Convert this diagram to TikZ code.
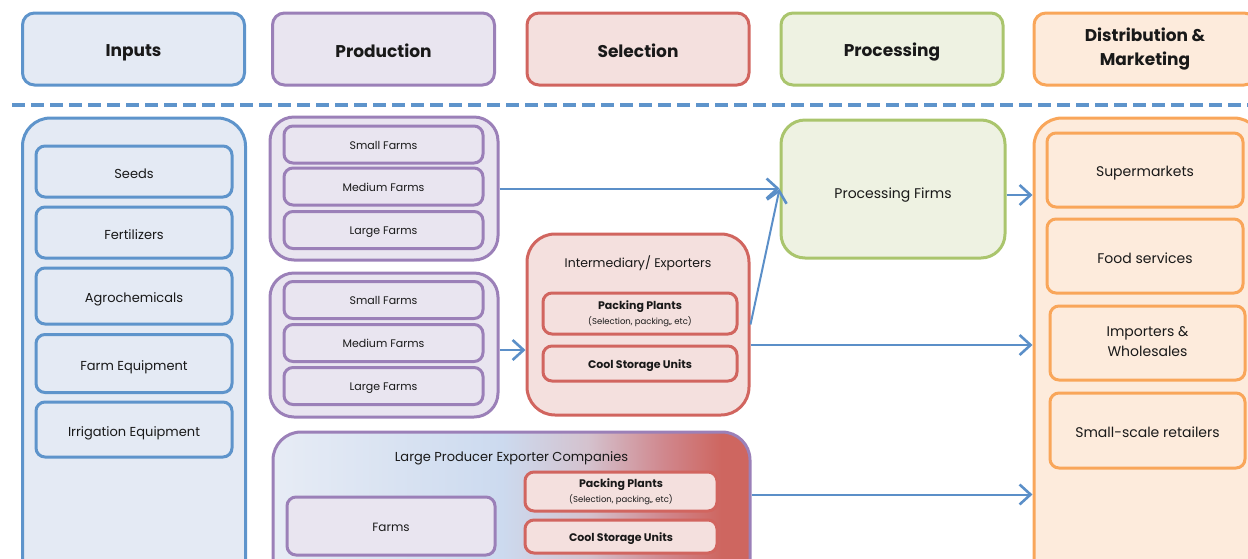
\documentclass[tikz,border=0pt]{standalone}
\usepackage{fontspec}
\setmainfont{Poppins}
\usetikzlibrary{arrows.meta}

\definecolor{inblue}{HTML}{5E94CB}
\definecolor{inblueL}{HTML}{E4EAF4}
\definecolor{prpurple}{HTML}{9B80B8}
\definecolor{prpurpleL}{HTML}{E9E5F0}
\definecolor{sered}{HTML}{D1655F}
\definecolor{seredL}{HTML}{F4E0DE}
\definecolor{pcgreen}{HTML}{AAC56D}
\definecolor{pcgreenL}{HTML}{EEF2E2}
\definecolor{dmorange}{HTML}{F9A65A}
\definecolor{dmorangeL}{HTML}{FDEBDC}
\definecolor{flow}{HTML}{5B8FC8}
\definecolor{lpecA}{HTML}{E7ECF5}
\definecolor{lpecB}{HTML}{CCDAEF}
\definecolor{lpecC}{HTML}{D4C2CE}
\definecolor{lpecD}{HTML}{D0878D}
\definecolor{lpecE}{HTML}{CE6660}

\pgfdeclarehorizontalshading{lpecshade}{100bp}{color(0bp)=(lpecA); color(25bp)=(lpecA); color(49bp)=(lpecB); color(58bp)=(lpecC); color(66bp)=(lpecD); color(72bp)=(lpecE); color(100bp)=(lpecE)}

\newcommand{\labelstrut}{\rule[-0.15\baselineskip]{0pt}{\baselineskip}}

\begin{document}
\begin{tikzpicture}[x=1pt, y=-1pt, >={Straight Barb[length=11pt,width=20pt,line width=2.6pt]}]
        \tikzstyle{every node}=[font=\fontsize{12}{14}\selectfont, align=center, inner sep=2pt, text=black!90, execute at begin node=\labelstrut, execute at end node=\labelstrut]
        \tikzstyle{head}=[draw, line width=3pt, rounded corners=12pt, minimum width=222pt, minimum height=72pt, font=\fontsize{17}{24}\selectfont\bfseries]
        \tikzstyle{group}=[draw, line width=3pt, rounded corners=28pt]
        \tikzstyle{item}=[draw, line width=3pt, rounded corners=9pt]
        \tikzstyle{farm}=[item, draw=prpurple, fill=prpurpleL, minimum width=199pt, minimum height=37pt, font=\fontsize{11}{13}\selectfont]
        \tikzstyle{input}=[item, draw=inblue, fill=inblueL, minimum width=196pt, font=\fontsize{13}{20}\selectfont]
        \tikzstyle{outlet}=[item, draw=dmorange, fill=dmorangeL, minimum height=74pt, font=\fontsize{14}{20}\selectfont]
        \tikzstyle{plant}=[item, draw=sered, fill=seredL, font=\fontsize{11}{16}\selectfont\bfseries]
        \tikzstyle{flowline}=[draw=flow, line width=2pt, ->]
        \useasboundingbox (0,0) rectangle (1248,558);
        \clip (0,0) rectangle (1248,558);
        % stages
        \node [head, draw=inblue, fill=inblueL] (hin) at (133.5,49) {Inputs};
        \node [head, draw=prpurple, fill=prpurpleL] (hprod) at (383.5,49) {Production};
        \node [head, draw=sered, fill=seredL] (hsel) at (638,49) {Selection};
        \node [head, draw=pcgreen, fill=pcgreenL] (hproc) at (892,49) {Processing};
        \node [head, draw=dmorange, fill=dmorangeL] (hdist) at (1145,49) {Distribution \&\\Marketing};
        \draw [inblue, line width=3.5pt, dash pattern=on 13pt off 6pt] (12,105) -- (1260,105);
        % inputs
        \node [group, draw=inblue, fill=inblueL, minimum width=223pt, minimum height=480pt] (inp) at (134,358) {};
        \node [input, minimum height=51pt] (seeds) at (134,171.5) {Seeds};
        \node [input, minimum height=51pt] (fert) at (134,232.5) {Fertilizers};
        \node [input, minimum height=56pt] (agro) at (134,296) {Agrochemicals};
        \node [input, minimum height=58pt] (equip) at (134,363.5) {Farm Equipment};
        \node [input, minimum height=55pt] (irrig) at (134,429.5) {Irrigation Equipment};
        % production
        \node [group, rounded corners=24pt, draw=prpurple, fill=prpurpleL, minimum width=228pt, minimum height=143pt] (prod1) at (384,188.5) {};
        \node [farm] (small1) at (383.5,144.5) {Small Farms};
        \node [farm] (medium1) at (383.5,186.5) {Medium Farms};
        \node [farm] (large1) at (383.5,230) {Large Farms};
        \node [group, rounded corners=24pt, draw=prpurple, fill=prpurpleL, minimum width=228pt, minimum height=144pt] (prod2) at (384,345) {};
        \node [farm] (small2) at (383.5,300) {Small Farms};
        \node [farm] (medium2) at (383.5,343) {Medium Farms};
        \node [farm] (large2) at (383.5,386) {Large Farms};
        % selection
        \node [group, draw=sered, fill=seredL, minimum width=222pt, minimum height=181pt] (inter) at (638,324.5) {};
        \node [font=\fontsize{12.5}{14}\selectfont] (intert) at (638,263) {Intermediary/ Exporters};
        \node [plant, minimum width=194pt, minimum height=41pt] (pack1) at (640,313.5) {Packing Plants\\[-1pt]{\fontsize{8.5}{10}\selectfont\mdseries (Selection, packing,, etc)}};
        \node [plant, minimum width=194pt, minimum height=35pt] (cool1) at (640,363.5) {Cool Storage Units};
        % large producer exporters
        \node [group, draw=prpurple, shading=lpecshade, minimum width=477pt, minimum height=168pt] (lpec) at (511.5,516) {};
        \node [font=\fontsize{13}{15}\selectfont] (lpect) at (511.5,457) {Large Producer Exporter Companies};
        \node [farm, minimum width=208pt, minimum height=58pt, font=\fontsize{12}{16}\selectfont] (farms) at (391,526) {Farms};
        \node [plant, minimum width=192pt, minimum height=39pt] (pack2) at (621,491.5) {Packing Plants\\[-1pt]{\fontsize{8.5}{10}\selectfont\mdseries (Selection, packing,, etc)}};
        \node [plant, minimum width=192pt, minimum height=33pt] (cool2) at (621,536.5) {Cool Storage Units};
        % processing
        \node [group, rounded corners=24pt, draw=pcgreen, fill=pcgreenL, minimum width=224pt, minimum height=138pt, font=\fontsize{14}{26}\selectfont] (proc) at (893,189) {Processing Firms};
        % distribution
        \node [group, draw=dmorange, fill=dmorangeL, minimum width=228pt, minimum height=480pt] (dist) at (1148,358) {};
        \node [outlet, minimum width=196pt] (super) at (1145,170) {Supermarkets};
        \node [outlet, minimum width=196pt] (food) at (1145,256) {Food services};
        \node [outlet, minimum width=195pt] (imp) at (1147.5,343) {Importers \&\\Wholesales};
        \node [outlet, minimum width=195pt, minimum height=75pt] (retail) at (1147.5,430.5) {Small-scale retailers};
        % flows
        \draw [flowline] (prod1.east) -- (prod1.east -| proc.west);
        \draw [flowline] ([yshift=-5pt]prod2.east) -- ([yshift=-5pt]prod2.east -| inter.west);
        \draw [flowline] (inter.east) -- (proc.west);
        \draw [flowline] ([yshift=-2pt]imp -| inter.east) -- ([yshift=-2pt]imp -| dist.west);
        \draw [flowline] ([yshift=-6pt]proc.east) -- ([yshift=-6pt]proc.east -| dist.west);
        \draw [flowline] ([yshift=-3pt]pack2 -| lpec.east) -- ([yshift=-3pt]pack2 -| dist.west);
      \end{tikzpicture}
\end{document}
